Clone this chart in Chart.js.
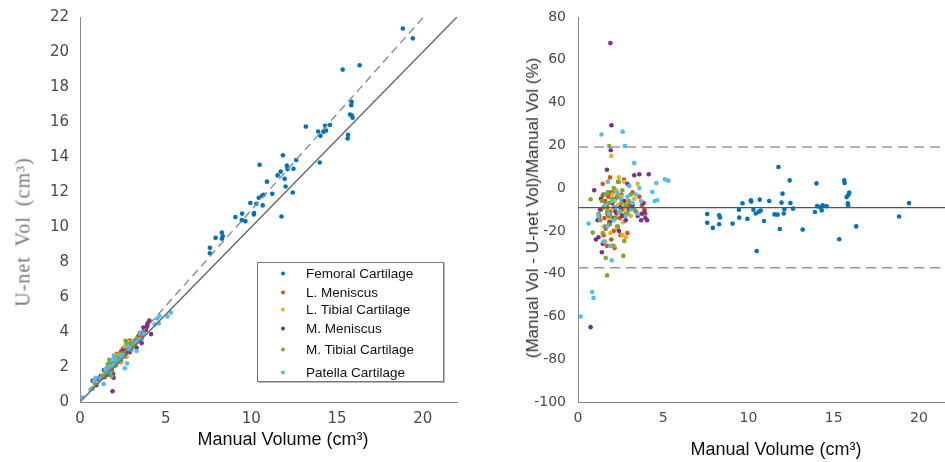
<!DOCTYPE html>
<html>
<head>
<meta charset="utf-8">
<script src="https://cdn.jsdelivr.net/npm/chart.js@4.4.1/dist/chart.umd.min.js"></script>
<style>
  html, body { margin: 0; padding: 0; background: #fff; }
  #wrap { position: relative; width: 945px; height: 462px; overflow: hidden; }
  canvas { position: absolute; top: 0; }
  .ttl { position: absolute; white-space: nowrap; transform: translate(-50%, -50%); }
  .ytl { transform: translate(-50%, -50%) rotate(-90deg); }
  #legend { position: absolute; left: 257px; top: 262px; width: 185px; height: 118px;
            border: 1px solid #777; box-shadow: 1px 1px 0 #bbb; background: #fff; }
  .lgRow { position: absolute; left: 0; font: 13.5px "Liberation Sans", Arial, sans-serif; color: #111;
           transform: translateY(-50%); white-space: nowrap; }
  .lgDot { display: inline-block; width: 4px; height: 4px; border-radius: 50%; margin-left: 23px; margin-right: 21px; vertical-align: middle; }
</style>
</head>
<body>
<div id="wrap">
  <canvas id="cvIzq" width="480" height="462" style="left:0"></canvas>
  <canvas id="cvDer" width="477" height="462" style="left:480px"></canvas>
  <div class="ttl ytl" style="left:23px; top:232px; font:20px 'Liberation Serif', serif; color:#777; letter-spacing:1px; word-spacing:4px;">U-net Vol (cm³)</div>
  <div class="ttl" style="left:283px; top:439px; font:18px 'Liberation Sans', Arial, sans-serif; color:#111;">Manual Volume (cm³)</div>
  <div class="ttl ytl" style="left:533px; top:208px; font:17px 'Liberation Sans', Arial, sans-serif; color:#333;">(Manual Vol - U-net Vol)/Manual Vol (%)</div>
  <div class="ttl" style="left:776px; top:449px; font:18px 'Liberation Sans', Arial, sans-serif; color:#111;">Manual Volume (cm³)</div>
  <div id="legend"></div>
</div>
<script>
// estructuras y colores
const estructuras = ['Femoral Cartilage', 'L. Meniscus', 'L. Tibial Cartilage', 'M. Meniscus', 'M. Tibial Cartilage', 'Patella Cartilage'];
const colores = ['#0072BD', '#D95319', '#EDB120', '#7E2F8E', '#77AC30', '#4DBEEE'];

// volumen manual (cm3) y diferencia porcentual (%)
const femoralVol = [7.58,7.58,7.91,8.28,8.33,8.28,9.07,9.44,9.65,9.46,9.94,10.14,10.16,10.29,10.43,10.48,10.62,10.66,10.72,10.91,11.22,11.53,11.71,11.76,11.84,11.94,12.0,12.07,12.11,12.42,12.46,12.62,13.18,13.9,13.99,14.03,14.2,14.3,14.36,14.59,15.33,15.62,15.64,15.76,15.87,15.91,15.83,15.85,16.32,18.84,19.42];
const femoralDif = [-12.1,-16.2,-18.6,-12.7,-13.7,-16.9,-16.6,-10.1,-7.1,-13.8,-14.4,-5.7,-6.3,-10.1,-11.9,-29.4,-11.0,-5.4,-10.5,-15.4,-6.0,-12.3,-12.4,9.9,-19.1,-6.8,-2.6,-11.9,-9.9,3.6,-7.0,-9.6,-19.4,-11.2,2.2,-8.4,-8.8,-10.4,-8.0,-8.5,-23.9,3.6,2.4,-4.2,-3.1,-2.1,-7.1,-8.2,-17.9,-13.3,-7.0];

const lMenVol = [1.35,1.45,1.5,1.55,1.6,1.62,1.7,1.72,1.78,1.8,1.85,1.88,1.9,1.95,2.0,2.02,2.05,2.1,2.12,2.15,2.2,2.25,2.3,2.35,2.4,2.45,2.5,2.55,2.6,2.65,2.7,2.8,2.9,3.0,3.2,3.4,3.6,3.75,3.9,3.95];
const lMenDif = [-10,2,-22,-14,-6,-19,-27,-9,-4,-13,-17,5,-11,-24,-7,-2,-15,-20,-9,-28,-5,-12,-18,3,-8,-14,-22,-3,-10,-6,4,-12,-21,-8,-2,-11,-4,-8,-10,-12];

const lTibVol = [1.4,1.5,1.55,1.6,1.7,1.75,1.8,1.85,1.9,1.95,2.0,2.05,2.1,2.15,2.2,2.25,2.3,2.35,2.4,2.5,2.55,2.6,2.65,2.7,2.75,2.8,2.85,2.9,3.0,3.1,3.3,3.5];
const lTibDif = [-4,-18,-9,-25,-12,3,-7,-15,-21,15,-3,-10,-27,-6,-14,-1,-19,-8,5,-12,-4,-22,-16,3,-9,-23,-11,-6,1,-13,-5,2];

const mMenVol = [0.74,0.95,1.05,1.15,1.2,1.25,1.3,1.35,1.4,1.45,1.5,1.6,1.65,1.7,1.75,1.8,1.85,1.9,1.92,1.96,2.0,2.1,2.2,2.3,2.4,2.5,2.6,2.7,2.8,2.9,3.0,3.2,3.3,3.5,3.6,3.7,3.75,3.85,3.9,3.95,4.05,4.15];
const mMenDif = [-65,-1,-24,-15,-23,-13,-10,-5,-30,-26,-3,-8,-18,8.6,-12,-2,-16,67.8,17.7,29.4,-7,-14,-11,-4,-20,-9,-13,-6,-15,2,-10,-8,6,-13,6.5,-15,-12,-7,-11,-14,-15,6.5];

const mTibVol = [0.74,0.87,1.2,1.3,1.4,1.45,1.5,1.6,1.63,1.7,1.71,1.75,1.8,1.84,1.85,1.9,2.0,2.05,2.1,2.15,2.2,2.3,2.35,2.4,2.5,2.55,2.6,2.66,2.71,2.8,2.9,3.0,3.1,3.3];
const mTibDif = [-5.2,-20.8,-12,-15,-6,-21,-9,-3,-32.7,-11,-40.8,-2,-17,19.7,-7,-13,-5,-27,0,-9,-14,-4,-18,3,-11,-7,-1,-31.7,-24.7,-8,-12,-6,-3,-10];

const patelaVol = [0.16,0.62,0.83,0.91,1.2,1.38,1.5,1.6,1.7,1.75,1.8,1.9,1.98,2.0,2.1,2.2,2.3,2.4,2.5,2.62,2.75,2.8,2.9,3.0,3.1,3.2,3.3,3.4,3.5,3.6,3.7,4.36,4.5,4.6,4.65,5.1,5.3];
const patelaDif = [-60,-16.6,-48.6,-51.4,-13,25.1,-25,-8,-18,3,-12,-27,-33.8,-6,-15,-9,-2,-11,-5,26.4,19.7,-13,-4,1,-10,-7,11.7,-3,-12,0,-6,-1.8,-6,2.4,-5.7,4.1,3.5];

// lineas de referencia
const identidadX = [0, 22];
const identidadY = [0, 22];
const ajusteX = [0, 20.05];
const ajusteY = [0, 22];
const mediaDif = -9.1;
const limiteSup = 19.2;
const limiteInf = -37.2;

// ticks
const ticksVol = [0, 5, 10, 15, 20];
const ticksUnet = [0, 2, 4, 6, 8, 10, 12, 14, 16, 18, 20, 22];
const ticksDif = [-100, -80, -60, -40, -20, 0, 20, 40, 60, 80];

const volumenes = [femoralVol, lMenVol, lTibVol, mMenVol, mTibVol, patelaVol];
const diferencias = [femoralDif, lMenDif, lTibDif, mMenDif, mTibDif, patelaDif];

function puntosUnet(i) {
    return volumenes[i].map((v, k) => ({ x: v, y: v * (1 - diferencias[i][k] / 100) }));
}
function puntosDif(i) {
    return volumenes[i].map((v, k) => ({ x: v, y: diferencias[i][k] }));
}
function linea(xs, ys, color, dash) {
    return {
        type: 'line',
        data: xs.map((x, k) => ({ x: x, y: ys[k] })),
        borderColor: color,
        borderWidth: 1.4,
        borderDash: dash,
        pointRadius: 0,
        fill: false
    };
}

const ordenDibujo = [5, 4, 3, 2, 1, 0];

function escalaX(tam) {
    return {
        type: 'linear', min: 0, max: 22,
        afterBuildTicks: (s) => { s.ticks = ticksVol.map(v => ({ value: v })); },
        afterFit: (s) => { s.height = 60; },
        grid: { display: false },
        border: { display: true, color: '#888', width: 1 },
        ticks: { color: '#4a4a4a', font: { family: 'DejaVu Sans', size: tam }, padding: 0 }
    };
}

new Chart(document.getElementById('cvIzq'), {
    type: 'scatter',
    data: {
        datasets: [
            linea(ajusteX, ajusteY, '#8a8a8a', [8, 5]),
            linea(identidadX, identidadY, '#666', [])
        ].concat(ordenDibujo.map(i => ({
            label: estructuras[i],
            data: puntosUnet(i),
            backgroundColor: colores[i],
            borderWidth: 0,
            pointRadius: 2.3
        })))
    },
    options: {
        responsive: false,
        animation: false,
        layout: { padding: { left: 0, right: 23, top: 17, bottom: 0 } },
        plugins: { legend: { display: false }, tooltip: { enabled: false } },
        scales: {
            x: escalaX(15),
            y: {
                type: 'linear', min: 0, max: 22,
                afterBuildTicks: (s) => { s.ticks = ticksUnet.map(v => ({ value: v })); },
                afterFit: (s) => { s.width = 80; },
                grid: { display: false },
                border: { display: true, color: '#888', width: 1 },
                ticks: { color: '#4a4a4a', font: { family: 'DejaVu Sans', size: 15 }, padding: 3 }
            }
        }
    }
});

new Chart(document.getElementById('cvDer'), {
    type: 'scatter',
    data: {
        datasets: [
            linea(identidadX, [mediaDif, mediaDif], '#555', []),
            linea(identidadX, [limiteSup, limiteSup], '#999', [10, 6]),
            linea(identidadX, [limiteInf, limiteInf], '#999', [10, 6])
        ].concat(ordenDibujo.map(i => ({
            label: estructuras[i],
            data: puntosDif(i),
            backgroundColor: colores[i],
            borderWidth: 0,
            pointRadius: 2.3
        })))
    },
    options: {
        responsive: false,
        animation: false,
        layout: { padding: { left: 0, right: 0, top: 17, bottom: 0 } },
        plugins: { legend: { display: false }, tooltip: { enabled: false } },
        scales: {
            x: escalaX(14),
            y: {
                type: 'linear', min: -100, max: 80,
                afterBuildTicks: (s) => { s.ticks = ticksDif.map(v => ({ value: v })); },
                afterFit: (s) => { s.width = 98; },
                grid: { display: false },
                border: { display: true, color: '#888', width: 1 },
                ticks: { color: '#4a4a4a', font: { family: 'DejaVu Sans', size: 14 }, padding: 4 }
            }
        }
    }
});

// leyenda
const filasY = [10, 29, 46, 65, 86, 109];
const leyenda = document.getElementById('legend');
estructuras.forEach((nombre, i) => {
    const fila = document.createElement('div');
    fila.className = 'lgRow';
    fila.style.top = filasY[i] + 'px';
    fila.innerHTML = '<span class="lgDot" style="background:' + colores[i] + '"></span>' + nombre;
    leyenda.appendChild(fila);
});
</script>
</body>
</html>
